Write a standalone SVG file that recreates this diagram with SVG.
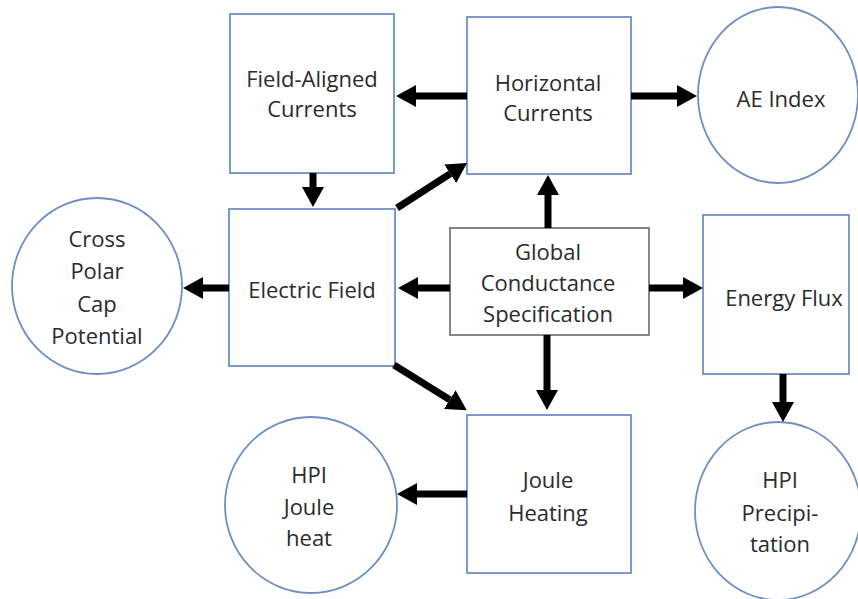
<svg xmlns="http://www.w3.org/2000/svg" width="858" height="599" viewBox="0 0 858 599">
<defs>
<style>
.box{fill:#fff;stroke:#6f8fc4;stroke-width:1.8}
.gbox{fill:#fff;stroke:#7a7a7a;stroke-width:1.8}
.circ{fill:#fff;stroke:#6f8fc4;stroke-width:1.8}
.t{font-family:"Open Sans","Liberation Sans",sans-serif;font-size:22px;fill:#2b2b2b;text-anchor:middle;dominant-baseline:central}
.ar{stroke:#000;stroke-width:7;fill:none;marker-end:url(#ah)}
</style>
<marker id="ah" markerWidth="20" markerHeight="22" refX="0" refY="11" orient="auto" markerUnits="userSpaceOnUse">
<path d="M0,0 L20,11 L0,22 z" fill="#000"/>
</marker>
</defs>
<rect width="858" height="599" fill="#fff"/>
<g id="fac"><rect class="box" x="230" y="14" width="164" height="159"/><text class="t" x="312" y="78">Field-Aligned</text><text class="t" x="312" y="108">Currents</text></g>
<g id="hc"><rect class="box" x="467" y="17" width="164" height="157"/><text class="t" x="548" y="82">Horizontal</text><text class="t" x="548" y="112">Currents</text></g>
<g id="ae"><ellipse class="circ" cx="778" cy="95" rx="80" ry="88"/><text class="t" x="781" y="98">AE Index</text></g>
<g id="cpc"><ellipse class="circ" cx="97" cy="286" rx="85" ry="88"/><text class="t" x="97" y="238">Cross</text><text class="t" x="97" y="270">Polar</text><text class="t" x="97" y="303">Cap</text><text class="t" x="97" y="335">Potential</text></g>
<g id="ef"><rect class="box" x="229" y="209" width="166" height="157"/><text class="t" x="312" y="289">Electric Field</text></g>
<g id="gcs"><rect class="gbox" x="450" y="228" width="199" height="107"/><text class="t" x="548" y="251">Global</text><text class="t" x="548" y="282">Conductance</text><text class="t" x="548" y="313">Specification</text></g>
<g id="enf"><rect class="box" x="703" y="215" width="146" height="159"/><text class="t" x="784" y="297">Energy Flux</text></g>
<g id="jh"><rect class="box" x="467" y="415" width="164" height="158"/><text class="t" x="548" y="479">Joule</text><text class="t" x="548" y="512">Heating</text></g>
<g id="hpij"><ellipse class="circ" cx="311" cy="505" rx="86" ry="88"/><text class="t" x="309" y="474">HPI</text><text class="t" x="309" y="506">Joule</text><text class="t" x="309" y="537">heat</text></g>
<g id="hpip"><ellipse class="circ" cx="778" cy="511" rx="83" ry="89"/><text class="t" x="780" y="479">HPI</text><text class="t" x="780" y="512">Precipi-</text><text class="t" x="780" y="543">tation</text></g>
<g id="connectors">
<line class="ar" x1="467" y1="96" x2="416" y2="96"/>
<line class="ar" x1="313" y1="173" x2="313" y2="187"/>
<line class="ar" x1="397" y1="208" x2="450.2" y2="173.8"/>
<line class="ar" x1="548" y1="228" x2="548" y2="195"/>
<line class="ar" x1="631" y1="96" x2="677" y2="96"/>
<line class="ar" x1="229" y1="288" x2="203" y2="288"/>
<line class="ar" x1="450" y1="288" x2="418" y2="288"/>
<line class="ar" x1="649" y1="288" x2="683" y2="288"/>
<line class="ar" x1="394" y1="365" x2="449.8" y2="399.7"/>
<line class="ar" x1="547" y1="335" x2="547" y2="390"/>
<line class="ar" x1="467" y1="494" x2="417" y2="494"/>
<line class="ar" x1="783" y1="374" x2="783" y2="402"/>
</g>
</svg>
